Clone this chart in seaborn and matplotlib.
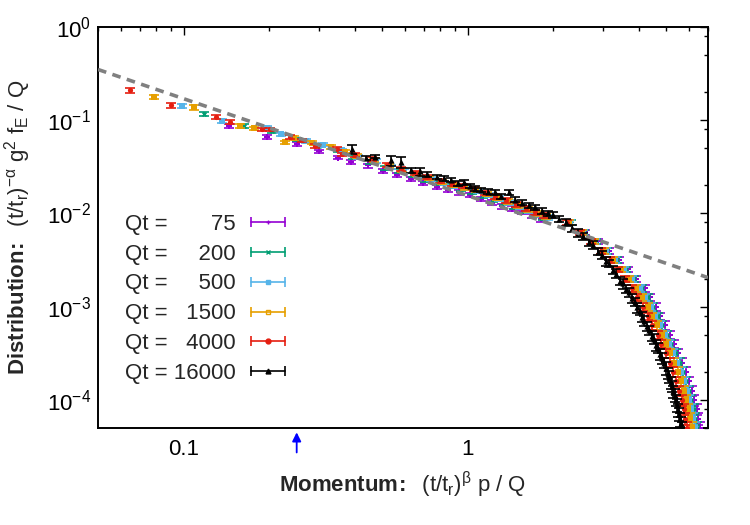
import numpy as np
import matplotlib
matplotlib.use("Agg")
import matplotlib.pyplot as plt
import seaborn as sns
from matplotlib.lines import Line2D
from matplotlib.legend_handler import HandlerLine2D, HandlerTuple
from matplotlib.ticker import LogLocator, NullFormatter


# -----------------------------
# DATA
# -----------------------------
qt_values = [75, 200, 500, 1500, 4000, 16000]

# shared y levels of the steep tail and typical error sizes (percent)
tail_y = [7.94e-3, 6.31e-3, 5.01e-3, 3.98e-3, 3.16e-3, 2.51e-3, 2.00e-3, 1.58e-3,
          1.26e-3, 1.00e-3, 7.94e-4, 6.31e-4, 5.01e-4, 3.98e-4, 3.16e-4, 2.51e-4,
          2.00e-4, 1.58e-4, 1.26e-4, 1.00e-4, 7.94e-5, 6.31e-5, 5.01e-5, 3.98e-5]
tail_err = [6, 6, 6, 7, 7, 7, 8, 8, 8, 9, 9, 10, 10, 10, 11, 11, 12, 12, 13, 13, 14, 14, 15, 15]
mid_err = [5, 5, 5, 5, 5, 5, 5, 5, 5, 5, 5, 6, 6, 6, 6, 6, 6]

# Qt = 75
purple_x = [0.144, 0.197, 0.250, 0.300, 0.350,
            0.388, 0.446, 0.504, 0.563, 0.631, 0.698, 0.776, 0.854, 0.931, 1.019,
            1.116, 1.213, 1.319, 1.436, 1.552, 1.678, 1.804,
            2.59, 2.87, 3.14, 3.40, 3.66, 3.92, 4.19, 4.39, 4.58, 4.75, 4.94, 5.15,
            5.32, 5.51, 5.69, 5.86, 6.01, 6.14, 6.27, 6.38, 6.47, 6.56, 6.65]
purple_y = [0.0877, 0.0665, 0.0555, 0.0465, 0.0395,
            0.0355, 0.0327, 0.0285, 0.0260, 0.0234, 0.0211, 0.0193, 0.0178, 0.0168,
            0.0157, 0.0143, 0.0130, 0.0119, 0.0113, 0.0104, 0.0094, 0.0087] + tail_y[1:]
purple_err = [5, 5, 5, 4, 4] + mid_err + tail_err[1:]

# Qt = 200
green_x = [0.118, 0.163, 0.205, 0.250, 0.300, 0.350,
           0.394, 0.453, 0.512, 0.571, 0.640, 0.709, 0.788, 0.867, 0.946, 1.034,
           1.133, 1.231, 1.340, 1.458, 1.576, 1.704, 1.832,
           2.30, 2.57, 2.83, 3.10, 3.35, 3.59, 3.84, 4.09, 4.29, 4.48, 4.65, 4.83,
           5.04, 5.20, 5.38, 5.56, 5.73, 5.87, 6.00, 6.12, 6.24, 6.32, 6.41, 6.50]
green_y = [0.117, 0.0877, 0.076, 0.0625, 0.0535, 0.0475,
           0.0401, 0.0357, 0.0311, 0.0284, 0.0256, 0.0230, 0.0211, 0.0195, 0.0183,
           0.0171, 0.0156, 0.0142, 0.0130, 0.0118, 0.01067, 0.00973, 0.00898] + tail_y
green_err = [6, 5, 4, 4, 4, 4] + mid_err + tail_err

# Qt = 500
blue_x = [0.099, 0.136, 0.197, 0.221, 0.270, 0.310, 0.360,
          0.412, 0.474, 0.536, 0.597, 0.670, 0.742, 0.824, 0.906, 0.989, 1.082,
          1.185, 1.288, 1.401, 1.524, 1.648, 1.782, 1.916,
          2.29, 2.55, 2.81, 3.06, 3.30, 3.54, 3.78, 4.02, 4.21, 4.40, 4.56, 4.74,
          4.94, 5.11, 5.28, 5.46, 5.62, 5.77, 5.89, 6.01, 6.12, 6.21, 6.30, 6.38]
blue_y = [0.141, 0.0977, 0.083, 0.0705, 0.0598, 0.0545, 0.0475,
          0.0407, 0.0362, 0.0315, 0.0288, 0.0259, 0.0233, 0.0213, 0.0197, 0.0186,
          0.0173, 0.0158, 0.0144, 0.0132, 0.0120, 0.0108, 0.00986, 0.0091] + tail_y
blue_err = [5, 5, 4, 4, 4, 4, 4] + mid_err + tail_err

# Qt = 1500
orange_x = [0.079, 0.109, 0.158, 0.177, 0.227, 0.245, 0.284, 0.329, 0.370,
            0.406, 0.467, 0.528, 0.589, 0.660, 0.731, 0.812, 0.893, 0.974, 1.066,
            1.167, 1.269, 1.380, 1.502, 1.624, 1.756, 1.888,
            2.27, 2.52, 2.77, 3.02, 3.24, 3.47, 3.69, 3.92, 4.10, 4.29, 4.45, 4.62,
            4.82, 4.98, 5.15, 5.32, 5.48, 5.62, 5.74, 5.86, 5.97, 6.05, 6.14, 6.22]
orange_y = [0.176, 0.137, 0.0877, 0.082, 0.058, 0.064, 0.0574, 0.0516, 0.046,
            0.0418, 0.0371, 0.0323, 0.0295, 0.0266, 0.0239, 0.0219, 0.0202, 0.0190,
            0.0178, 0.0162, 0.0148, 0.0135, 0.0123, 0.0111, 0.0101, 0.00932] + tail_y
orange_err = [5, 5, 5, 4, 4, 5, 4, 4, 4] + mid_err + tail_err

# Qt = 4000
red_x = [0.065, 0.090, 0.130, 0.146, 0.188, 0.201, 0.236, 0.262, 0.290, 0.347, 0.362,
         0.40, 0.46, 0.52, 0.58, 0.65, 0.72, 0.80, 0.88, 0.96, 1.05, 1.15, 1.25,
         1.36, 1.48, 1.60, 1.73, 1.86,
         2.24, 2.49, 2.72, 2.95, 3.16, 3.37, 3.57, 3.78, 3.95, 4.13, 4.29, 4.46,
         4.65, 4.80, 4.97, 5.13, 5.28, 5.42, 5.53, 5.65, 5.75, 5.83, 5.92, 6.00]
red_y = [0.209, 0.144, 0.109, 0.096, 0.080, 0.080, 0.0665, 0.0607, 0.0528, 0.0495, 0.043,
         0.0427, 0.0380, 0.0331, 0.0302, 0.0272, 0.0245, 0.0224, 0.0207, 0.0195,
         0.0182, 0.0166, 0.0151, 0.0138, 0.0126, 0.01135, 0.01035, 0.00955] + tail_y
red_err = [6, 5, 5, 5, 4, 4, 5, 4, 4, 4, 4] + mid_err + tail_err

# Qt = 16000
black_x = [0.39, 0.439, 0.47, 0.536, 0.583, 0.632, 0.678, 0.72, 0.776, 0.825,
           0.87, 0.92, 0.966, 1.02, 1.06, 1.11, 1.18, 1.245, 1.31, 1.397,
           1.47, 1.554, 1.64, 1.73, 1.82, 1.91, 2.0,
           2.10, 2.21, 2.32, 2.44, 2.55, 2.66, 2.76, 2.87, 2.97, 3.06,
           3.15, 3.24, 3.33, 3.43, 3.52, 3.61, 3.70, 3.78, 3.86, 3.94,
           4.02, 4.09, 4.18, 4.26, 4.35, 4.44, 4.51, 4.58, 4.66, 4.74,
           4.82, 4.90, 4.97, 5.05, 5.12, 5.18, 5.23, 5.28, 5.34, 5.40,
           5.45, 5.50, 5.54, 5.57, 5.61, 5.65, 5.73]
black_y = [0.0487, 0.0397, 0.0405, 0.037, 0.0355, 0.029, 0.0282, 0.0262, 0.0249, 0.0238,
           0.0229, 0.0212, 0.0215, 0.0196, 0.0185, 0.018, 0.0171, 0.0168, 0.0152, 0.0168,
           0.0141, 0.0131, 0.0122, 0.0116, 0.0107, 0.0100, 0.0096,
           0.0088, 0.0080, 0.0069, 0.0062, 0.0057, 0.0049, 0.0046, 0.0039, 0.0036, 0.0031,
           0.0029, 0.0025, 0.00226, 0.0019, 0.00178, 0.00155, 0.00143, 0.00123, 0.00113, 0.00098,
           0.00091, 0.00078, 0.00071, 0.00062, 0.00056, 0.00049, 0.00045, 0.00039, 0.00036, 0.00031,
           0.00028, 0.00025, 0.00022, 0.000195, 0.000178, 0.000155, 0.00014, 0.000124, 0.000112, 0.0001,
           8.9e-5, 7.8e-5, 7.1e-5, 6.2e-5, 5.6e-5, 4.9e-5, 3.9e-5]
black_err = [11, 5, 4, 12, 14, 6, 10, 5, 5, 6, 5, 6, 7, 5, 6, 5, 6, 5, 6, 7,
             6, 6, 7, 6, 7, 6, 7,
             8, 9, 8, 10, 9, 8, 10, 9, 10, 11, 9, 10, 11, 10, 12, 10, 11, 12, 10, 12,
             11, 12, 13, 11, 12, 13, 12, 14, 12, 13, 14, 13, 15, 13, 14, 15, 14, 15, 16, 14,
             16, 15, 16, 17, 16, 17, 18]

# power-law fit (dashed grey line), end points
fit_x = [0.05, 7.0]
fit_y = [0.35, 0.00205]

arrow_x = 0.25

x_ticks = [0.1, 1]
x_tick_labels = ["0.1", "1"]


# -----------------------------
# STYLE
# -----------------------------
sns.set_style("white")
plt.rcParams["font.family"] = ["Liberation Sans", "DejaVu Sans"]
plt.rcParams["mathtext.fontset"] = "custom"
plt.rcParams["mathtext.rm"] = "Liberation Sans"
plt.rcParams["mathtext.bf"] = "Liberation Sans:bold"
plt.rcParams["mathtext.it"] = "Liberation Sans:italic"
plt.rcParams["mathtext.sf"] = "Liberation Sans"
plt.rcParams["axes.unicode_minus"] = False

FS = 16

# label, x, y, err, colour, data marker, legend marker, legend face
series = [
    (qt_values[0], purple_x, purple_y, purple_err, "#9400D3", "P", "+", "#9400D3"),
    (qt_values[1], green_x, green_y, green_err, "#009E73", "X", "x", "#009E73"),
    (qt_values[2], blue_x, blue_y, blue_err, "#56B4E9", "s", "s", "#56B4E9"),
    (qt_values[3], orange_x, orange_y, orange_err, "#E69F00", "s", "s", "none"),
    (qt_values[4], red_x, red_y, red_err, "#E51E10", "o", "o", "#E51E10"),
    (qt_values[5], black_x, black_y, black_err, "#000000", "^", "^", "#000000"),
]


# -----------------------------
# PLOT
# -----------------------------
fig = plt.figure(figsize=(7.5, 5.25), dpi=100)
ax = fig.add_axes([0.1307, 0.1848, 0.8133, 0.7638])
ax.set_xscale("log")
ax.set_yscale("log")

for i, (qt, xs, ys, errs, color, marker, _, _) in enumerate(series):
    xs = np.asarray(xs)
    ys = np.asarray(ys)
    yerr = ys * np.asarray(errs) / 100.0
    ax.errorbar(xs, ys, yerr=yerr, fmt="none", ecolor=color, elinewidth=1.2,
                capsize=3.5, capthick=1.2, zorder=3 + i)
    sns.scatterplot(x=xs, y=ys, color=color, marker=marker,
                    s=14 if marker != "^" else 20,
                    linewidth=0, ax=ax, zorder=3 + i, legend=False)

ax.plot(fit_x, fit_y, color="#808080", lw=2.6, dashes=(2.4, 1.8), zorder=20)

ax.annotate("", xy=(arrow_x, -0.004), xycoords=("data", "axes fraction"),
            xytext=(arrow_x, -0.068), textcoords=("data", "axes fraction"),
            arrowprops=dict(arrowstyle="-|>", color="blue", lw=1.3, mutation_scale=13),
            annotation_clip=False)

ax.set_xlim(0.05, 7.0)
ax.set_ylim(5e-5, 1.0)

ax.set_xticks(x_ticks, labels=x_tick_labels)
ax.xaxis.set_minor_locator(LogLocator(base=10, subs=np.arange(2, 10)))
ax.xaxis.set_minor_formatter(NullFormatter())
ax.yaxis.set_minor_locator(LogLocator(base=10, subs=(2, 5, 8)))
ax.yaxis.set_minor_formatter(NullFormatter())

ax.tick_params(which="both", direction="in", top=True, right=True, colors="black",
               labelsize=FS, width=1.0)
ax.tick_params(which="major", length=6)
ax.tick_params(which="minor", length=3)
ax.tick_params(axis="x", which="major", pad=8)
ax.tick_params(axis="y", which="major", pad=5)

for sp in ax.spines.values():
    sp.set_color("black")
    sp.set_linewidth(1.4)

ax.set_xlabel(r"$\mathbf{Momentum\!:}$  $\mathrm{(t/t_r)^{\beta}\ p\ /\ Q}$",
              fontsize=FS, labelpad=7)
ax.set_ylabel(r"$\mathbf{Distribution\!:}$  $\mathrm{(t/t_r)^{-\alpha}\ g^2\ f_E\ /\ Q}$",
              fontsize=FS, labelpad=10)

# gnuplot-style key: text first, error-bar sample after it
handles, labels, hmap = [], [], {}
for qt, _, _, _, color, _, lmarker, face in series:
    bar = Line2D([], [], color=color, lw=1.2, marker="|", markersize=7,
                 markeredgewidth=1.2)
    dot = Line2D([], [], color=color, lw=0, marker=lmarker, markersize=3.5,
                 markerfacecolor=face, markeredgewidth=1.0)
    hmap[bar] = HandlerLine2D(numpoints=2, marker_pad=0)
    hmap[dot] = HandlerLine2D(numpoints=1)
    handles.append((bar, dot))
    pad = "\u2007" * (5 - len(str(qt)))
    labels.append(f"Qt = {pad}{qt}")
hmap[tuple] = HandlerTuple(ndivide=1, pad=0)

ax.legend(handles, labels, handler_map=hmap, markerfirst=False, frameon=False,
          loc="center left", bbox_to_anchor=(0.044, 0.322), borderpad=0,
          borderaxespad=0, fontsize=FS, handlelength=1.55, handletextpad=0.68,
          labelspacing=0.40)

fig.savefig("out.png", dpi=100)
